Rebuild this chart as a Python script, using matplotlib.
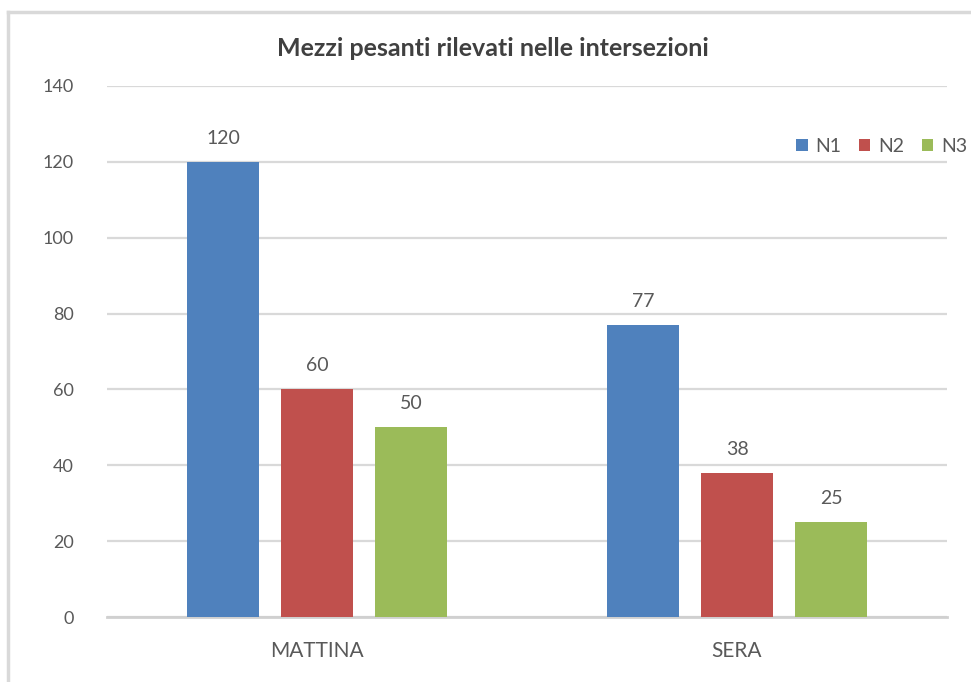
import numpy as np
import matplotlib.pyplot as plt
from matplotlib.lines import Line2D

plt.rcParams['font.family'] = ['Lato', 'DejaVu Sans']

categories = ['MATTINA', 'SERA']
series_names = ['N1', 'N2', 'N3']
n1 = [120, 77]
n2 = [60, 38]
n3 = [50, 25]
yticks = [0, 20, 40, 60, 80, 100, 120, 140]

colors = ['#4F81BD', '#C0504D', '#9BBB59']
text_col = '#595959'
grid_col = '#D9D9D9'

fig = plt.figure(figsize=(9.71, 6.82), dpi=100)
ax = fig.add_axes([107/971, 1-617/682, 840/971, 531/682])

x = np.arange(len(categories))
width = 0.171
step = 0.224
for i, (vals, name) in enumerate(zip([n1, n2, n3], series_names)):
    pos = x + (i - 1) * step
    bars = ax.bar(pos, vals, width, color=colors[i], label=name, zorder=3)
    for b, v in zip(bars, vals):
        ax.annotate(str(v), (b.get_x() + b.get_width()/2, v), xytext=(0, 11),
                    textcoords='offset points', ha='center', va='bottom',
                    fontsize=14, color=text_col)

ax.set_xlim(-0.5, 1.5)
ax.set_ylim(0, 140)
ax.set_yticks(yticks)
ax.set_xticks(x)
ax.set_xticklabels(categories)
ax.yaxis.grid(True, color=grid_col, linewidth=1.6, zorder=0)
for s in ['left', 'right', 'top']:
    ax.spines[s].set_visible(False)
ax.spines['bottom'].set_color('#D0D0D0')
ax.spines['bottom'].set_linewidth(2)
ax.tick_params(axis='y', length=0, pad=24, labelsize=13, labelcolor=text_col)
ax.tick_params(axis='x', length=0, pad=17, labelsize=15, labelcolor=text_col)

fig.text(493/971, 1-48/682, 'Mezzi pesanti rilevati nelle intersezioni',
         ha='center', va='center', fontsize=18, fontweight='bold', color='#404040')

leg = ax.legend(loc='upper right', bbox_to_anchor=(1.045, 0.935), ncol=3,
                frameon=False, fontsize=14, handlelength=0.6, handleheight=0.6,
                handletextpad=0.4, columnspacing=0.9, labelcolor=text_col)

# chart frame
fig.add_artist(Line2D([8/971, 1], [1-12/682, 1-12/682], color='#D9D9D9', linewidth=2.5,
                      transform=fig.transFigure))
fig.add_artist(Line2D([8/971, 8/971], [0, 1-12/682], color='#D9D9D9', linewidth=2.5,
                      transform=fig.transFigure))

fig.savefig('out.png', dpi=100)
